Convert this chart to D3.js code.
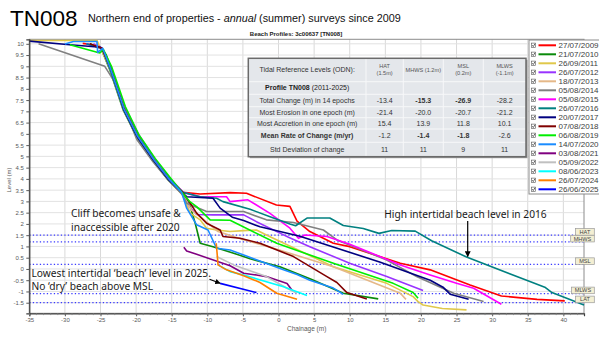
<!DOCTYPE html>
<html><head><meta charset="utf-8">
<script src="https://cdn.jsdelivr.net/npm/d3@7"></script>
<style>
body{margin:0;background:#fff;}
svg{display:block;font-family:"Liberation Sans",Arial,sans-serif;}
</style>
</head><body>
<svg id="c" width="599" height="337"></svg>
<script>
// ---------- DATA ----------
const dates = ["27/07/2009","21/07/2010","26/09/2011","26/07/2012","18/07/2013","05/08/2014","05/08/2015","26/07/2016","20/07/2017","07/08/2018","06/08/2019","14/07/2020","03/08/2021","05/09/2022","08/06/2023","26/07/2024","26/06/2025"];
const colors = ["#ff0000","#0a8a0a","#e0c84a","#9933ff","#e5b888","#808080","#ff00ff","#008080","#000080","#800000","#00ee00","#1a8cff","#800080","#c0c0c0","#00ffff","#ff8000","#0000ff"];

// [chainage (m), level (m)]
const p2009 = [[-27.5,10.02],[-26.2,9.96],[-24.8,9.8],[-23.5,8.95],[-21.6,7.15],[-19.7,5.95],[-17.5,4.9],[-15.4,4.05],[-13.4,3.4],[-11,3.33],[-6.8,3.39],[-4.5,3.36],[-0.3,2.84],[1.6,2.78],[2.6,2.12],[4.4,1.66],[7.7,1.14],[10,0.99],[17.1,0.25],[21.3,-0.04],[26.9,-0.71],[31.3,-1.2],[36.3,-1.35],[40.2,-1.42]];
const p2010 = [[-26.5,10.0],[-24.9,9.78],[-23.7,8.85],[-21.8,7.05],[-19.9,5.85],[-17.6,4.8],[-15.5,3.95],[-13.6,3.35],[-13.1,3.2],[-12.4,2.77],[-11.7,2.03],[-11.0,1.14],[-9.2,0.99],[-6.3,0.7],[-4,0.45],[0.2,0.1],[4.5,-0.45],[9.1,-1.08],[14.0,-1.33]];
const p2011 = [[-35,10.15],[-25.5,10.15],[-25.1,9.85],[-23.6,8.9],[-21.7,7.1],[-19.8,5.9],[-17.5,4.8],[-15.4,3.95],[-13.5,3.3],[-12.4,2.48],[-11,2.18],[-10.1,1.81],[-8.7,1.73],[-6.8,1.66],[-4.9,1.7],[-3.1,1.73],[-1.7,1.51],[7.7,0.1],[15.2,-0.64],[18.9,-1.23],[19.6,-1.45],[20.3,-1.6],[23,-1.76],[26.4,-1.82]];
const p2012 = [[-26,10.0],[-24.8,9.82],[-23.6,8.95],[-21.6,7.2],[-19.6,5.95],[-17.4,4.9],[-15.3,4.05],[-13.4,3.4],[-12.5,2.75],[-11.5,2.42],[-9.2,2.4],[-4.9,2.4],[-3.1,2.1],[0.2,1.59],[1.4,1.41],[4.4,0.99],[10,0.25],[15.2,-0.34],[20.3,-0.96]];
const p2013 = [[-26,9.95],[-24.8,9.78],[-23.7,8.88],[-21.8,7.08],[-19.9,5.88],[-17.6,4.83],[-15.5,3.98],[-13.5,3.35],[-12.2,2.6],[-11,2.32],[-8.5,1.66],[-4.9,1.3],[0,0.85],[7.7,0.1],[17.1,-1.08],[17.9,-1.35]];
const p2014 = [[-33.7,10.0],[-24.4,9.0],[-23.2,8.4],[-21.5,7.0],[-19.9,5.75],[-17.6,4.75],[-15.5,3.95],[-13.5,3.3],[-12.9,2.92],[-10.1,2.55],[-4.9,2.55],[-1.7,2.18],[2.1,2.06],[6.3,1.73],[8.2,1.29],[15.2,0.4],[19.4,-0.34],[24.6,-1.08],[28.8,-1.45]];
const p2015 = [[-27,10.0],[-24.8,9.8],[-23.6,8.9],[-21.7,7.1],[-19.8,5.9],[-17.5,4.85],[-15.4,4.0],[-13.4,3.4],[-11,3.21],[-7.3,3.21],[-6.8,2.99],[-4.3,3.07],[-1.2,2.47],[1.6,1.81],[2.8,1.36],[3.7,1.51],[6.8,1.44],[10,1.1],[17.1,0.18],[21.3,-0.27],[25,-0.64],[27.4,-0.86],[31.3,-1.57]];
const p2016 = [[-27,10.0],[-24.8,9.8],[-23.7,8.9],[-21.8,7.1],[-19.9,5.9],[-17.6,4.85],[-15.5,4.0],[-13.4,3.4],[-11,3.21],[-8.7,3.14],[-7.8,2.99],[-4,2.65],[-1,2.3],[1.6,2.0],[2.4,1.92],[4.0,2.26],[7.2,2.26],[9.1,1.93],[11.9,1.8],[14.1,1.58],[15.9,1.71],[19.2,1.68],[21.5,1.25],[26.4,0.53],[35.3,-0.56],[37.4,-0.81],[38.4,-1.05],[42.9,-1.6]];
const p2017 = [[-35,10.12],[-29.3,9.96],[-25,9.85],[-24.2,9.5],[-23.5,8.85],[-21.7,7.05],[-19.8,5.85],[-17.5,4.8],[-15.4,3.95],[-13.4,3.35],[-12.9,3.21],[-9.2,3.14],[-8.2,2.7],[-6.5,2.3],[-4.9,2.15],[-2.6,1.87],[3,1.45],[14.3,0.3],[21.3,-0.5],[23.1,-0.81],[24.1,-1.12],[26.7,-1.35]];
const p2018 = [[-26.5,10.0],[-24.8,9.8],[-23.6,8.92],[-21.7,7.12],[-19.8,5.92],[-17.5,4.85],[-15.4,4.0],[-13.4,3.38],[-12.4,2.92],[-11.5,2.48],[-10.1,2.03],[-8.2,1.73],[-7.8,1.44],[-5.4,1.36],[-2.6,1.14],[2.1,0.55],[6.8,-0.34],[8.2,-0.6],[9.6,-1.05],[12.4,-1.33]];
const p2019 = [[-29.3,9.96],[-25.1,9.59],[-24.6,9.75],[-23.4,8.95],[-21.5,7.2],[-19.6,5.95],[-17.3,4.9],[-15.2,4.05],[-13.8,3.5],[-12.5,3.0],[-11.5,2.77],[-9.6,2.18],[-6.8,2.16],[-0.25,1.14],[7.7,0.25],[16.1,-0.64],[18.9,-1.05],[19.6,-1.3]];
const p2020 = [[-30,9.99],[-28.8,10.1],[-25.5,10.1],[-25.4,9.62],[-24.7,9.8],[-23.6,8.9],[-21.7,7.1],[-19.8,5.9],[-17.5,4.85],[-15.4,4.0],[-13.6,3.4],[-12.9,2.7],[-11.5,1.96],[-9.9,1.73],[-8.7,0.92],[-6.8,0.84],[-4.7,0.6],[0.7,-0.04],[2.6,-0.25],[4.4,-0.5],[7.7,-0.85],[9.1,-1.13]];
const p2021 = [[-13.3,0.96],[-12.9,0.8],[-11.5,0.65],[-6.8,0.14],[-4.9,-0.19],[-3.1,-0.27],[-1.7,-0.34],[-0.25,-0.49],[1.2,-0.65],[1.9,-0.95]];
const p2022 = [[-8.7,0.55],[-6.3,0.18],[-1.7,-0.34],[1.2,-0.86],[2.6,-1.08]];
const p2023 = [[-8.5,0.18],[-6.8,-0.12],[-4.9,-0.27],[0.7,-0.79],[4.0,-1.18]];
const p2024 = [[-8.75,1.14],[-8.6,0.6],[-8.5,0.18],[-7.3,-0.04],[-4.9,-0.3],[-2.6,-0.6],[-0.25,-1.08],[2.6,-1.35]];
const p2025 = [[-8.2,-0.64],[-3.1,-1.05]];
const profiles = [p2009,p2010,p2011,p2012,p2013,p2014,p2015,p2016,p2017,p2018,p2019,p2020,p2021,p2022,p2023,p2024,p2025];

const xTickLabels = [-35,-30,-25,-20,-15,-10,-5,0,5,10,15,20,25,30,35,40];
const yTickLabels = [-1.5,-1,-0.5,0,0.5,1,1.5,2,2.5,3,3.5,4,4.5,5,5.5,6,6.5,7,7.5,8,8.5,9,9.5,10];

const tidalNames = ["HAT","MHWS","MSL","MLWS","LAT"];
const tidalLevels = [1.5,1.2,0.2,-1.1,-1.5];

const tableHeaders = [["HAT","(1.5m)"],["MHWS (1.2m)"],["MSL","(0.2m)"],["MLWS","(-1.1m)"]];
const rowLabels = ["Total Change (m) in 14 epochs","Most Erosion in one epoch (m)","Most Accretion in one epoch (m)","Mean Rate of Change (m/yr)","Std Deviation of change"];
const rowValues = [["-13.4","-15.3","-26.9","-28.2"],["-21.4","-20.0","-20.7","-21.2"],["15.4","13.9","11.8","10.1"],["-1.2","-1.4","-1.8","-2.6"],["11","11","9","11"]];
const boldCells = [[0,1],[0,2],[3,1],[3,2]];

// ---------- LAYOUT ----------
const svg = d3.select("#c");
const L = 29.3, R = 584, T = 39.3, B = 313.3;
const x = d3.scaleLinear().domain([-35, 42.9]).range([L, R]);
const y = d3.scaleLinear().domain([-1.97, 10.2]).range([B, T]);

// titles
svg.append("text").attr("x", 10).attr("y", 26).attr("font-size", 22.5).attr("fill", "#000").text("TN008");
svg.append("text").attr("x", 88).attr("y", 22).attr("font-size", 10.8).attr("fill", "#111")
  .call(t => {
    t.append("tspan").text("Northern end of properties - ");
    t.append("tspan").attr("font-style", "italic").text("annual");
    t.append("tspan").text(" (summer) surveys since 2009");
  });
svg.append("text").attr("x", 296).attr("y", 35.5).attr("text-anchor", "middle").attr("font-size", 6)
  .attr("font-weight", "bold").attr("fill", "#222").text("Beach Profiles: 3c00637 [TN008]");

// gridlines
const g = svg.append("g");
g.selectAll("line.vx").data(xTickLabels).enter().append("line")
  .attr("x1", d => x(d)).attr("x2", d => x(d)).attr("y1", T).attr("y2", B)
  .attr("stroke", "#d9d9d9").attr("stroke-width", 1);
g.selectAll("line.hy").data(yTickLabels).enter().append("line")
  .attr("x1", L).attr("x2", R).attr("y1", d => y(d)).attr("y2", d => y(d))
  .attr("stroke", "#e2e2e2").attr("stroke-width", 1);

// plot border
svg.append("rect").attr("x", L).attr("y", T).attr("width", R - L).attr("height", B - T)
  .attr("fill", "none").attr("stroke", "#8c8c8c").attr("stroke-width", 1);

// tidal dotted lines
svg.selectAll("line.tide").data(tidalLevels).enter().append("line")
  .attr("x1", L).attr("x2", R).attr("y1", d => y(d)).attr("y2", d => y(d))
  .attr("stroke", "#3b3bff").attr("stroke-width", 1.3).attr("stroke-dasharray", "1.3,2.2");

// profiles
const line = d3.line().x(d => x(d[0])).y(d => y(d[1]));
svg.append("g").selectAll("path").data(profiles).enter().append("path")
  .attr("d", line).attr("fill", "none")
  .attr("stroke", (d, i) => colors[i]).attr("stroke-width", 1.6).attr("stroke-linejoin", "round");

// axes
const xAxis = d3.axisBottom(x).tickValues(xTickLabels).tickSize(3).tickPadding(1.5).tickFormat(d => String(d));
const gx = svg.append("g").attr("transform", `translate(0,${B})`).call(xAxis);
const yAxis = d3.axisLeft(y).tickValues(yTickLabels).tickSize(3).tickFormat(d => String(d));
const gy = svg.append("g").attr("transform", `translate(${L},0)`).call(yAxis);
[gx, gy].forEach(a => {
  a.select(".domain").attr("stroke", "#404040").attr("stroke-width", 1.2);
  a.selectAll(".tick line").attr("stroke", "#595959");
  a.selectAll(".tick text").attr("font-size", 6).attr("fill", "#595959").attr("font-family", "Liberation Sans, Arial, sans-serif");
});
gy.selectAll(".tick text").attr("dx", "0.1em");
// minor x ticks
svg.append("g").selectAll("line").data(d3.range(-35, 43, 1)).enter().append("line")
  .attr("x1", d => x(d)).attr("x2", d => x(d)).attr("y1", B).attr("y2", B + 1.8)
  .attr("stroke", "#808080").attr("stroke-width", 0.8);

svg.append("text").attr("x", (L + R) / 2).attr("y", 331).attr("text-anchor", "middle")
  .attr("font-size", 6.5).attr("fill", "#595959").text("Chainage (m)");
svg.append("text").attr("transform", `translate(11,180) rotate(-90)`).attr("text-anchor", "middle")
  .attr("font-size", 6).attr("fill", "#595959").text("Level (m)");

// annotations
const ann = svg.append("g").attr("font-family", "'Noto Sans', 'Open Sans', sans-serif").attr("font-size", 10.2).attr("fill", "#1a1a1a");
ann.append("text").attr("x", 71).attr("y", 217).text("Cliff becomes unsafe &");
ann.append("text").attr("x", 71).attr("y", 230.5).text("inaccessible after 2020");
ann.append("text").attr("x", 31.5).attr("y", 276.5).text("Lowest intertidal \u2018beach\u2019 level in 2025.");
ann.append("text").attr("x", 31.5).attr("y", 290).text("No \u2018dry\u2019 beach above MSL");
ann.append("text").attr("x", 384.3).attr("y", 218).text("High intertidal beach level in 2016");

const defs = svg.append("defs");
defs.append("marker").attr("id", "ah").attr("viewBox", "0 0 10 10").attr("refX", 9).attr("refY", 5)
  .attr("markerWidth", 5).attr("markerHeight", 5).attr("orient", "auto")
  .append("path").attr("d", "M0,0 L10,5 L0,10 z").attr("fill", "#000");
svg.append("line").attr("x1", 467.7).attr("y1", 221).attr("x2", 467.7).attr("y2", y(0.55))
  .attr("stroke", "#000").attr("stroke-width", 1.2).attr("marker-end", "url(#ah)");
svg.append("line").attr("x1", 209.5).attr("y1", 279.3).attr("x2", x(-8.2)).attr("y2", y(-0.64))
  .attr("stroke", "#000").attr("stroke-width", 1.1).attr("marker-end", "url(#ah)");

// table
const colX = [248.3, 366, 403.3, 443.3, 483.3, 526];
const rowY = [58.3, 81.7, 94.3, 106.7, 117.7, 129, 142.3, 156.7];
const tbl = svg.append("g");
tbl.append("rect").attr("x", colX[0] + 1.5).attr("y", rowY[0] + 1.5).attr("width", colX[5] - colX[0]).attr("height", rowY[7] - rowY[0]).attr("fill", "#9a9a9a");
tbl.append("rect").attr("x", colX[0]).attr("y", rowY[0]).attr("width", colX[5] - colX[0]).attr("height", rowY[7] - rowY[0]).attr("fill", "#e4e7eb");
[1, 2, 3, 4].forEach(i => tbl.append("line").attr("x1", colX[i]).attr("x2", colX[i]).attr("y1", rowY[0]).attr("y2", rowY[7]).attr("stroke", "#f7f8f9").attr("stroke-width", 1));
[1, 2, 3, 4, 5, 6].forEach(i => tbl.append("line").attr("x1", colX[0]).attr("x2", colX[5]).attr("y1", rowY[i]).attr("y2", rowY[i]).attr("stroke", "#f7f8f9").attr("stroke-width", 1));
tbl.append("rect").attr("x", colX[0]).attr("y", rowY[0]).attr("width", colX[5] - colX[0]).attr("height", rowY[7] - rowY[0])
  .attr("fill", "none").attr("stroke", "#6b6b6b").attr("stroke-width", 1.5);
const lblC = (colX[0] + colX[1]) / 2;
tbl.append("text").attr("x", lblC).attr("y", (rowY[0] + rowY[1]) / 2 + 2.4).attr("text-anchor", "middle").attr("font-size", 7).attr("fill", "#333").text("Tidal Reference Levels (ODN):");
tableHeaders.forEach((h, i) => {
  const cx = (colX[i + 1] + colX[i + 2]) / 2;
  const my = (rowY[0] + rowY[1]) / 2;
  h.forEach((s, j) => {
    const yy = h.length === 1 ? my + 2 : my - 2.5 + j * 7.2;
    tbl.append("text").attr("x", cx).attr("y", yy).attr("text-anchor", "middle").attr("font-size", 5.6).attr("fill", "#555").text(s);
  });
});
tbl.append("text").attr("x", lblC).attr("y", (rowY[1] + rowY[2]) / 2 + 2.4).attr("text-anchor", "middle").attr("font-size", 7).attr("fill", "#222")
  .call(t => { t.append("tspan").attr("font-weight", "bold").text("Profile TN008"); t.append("tspan").text(" (2011-2025)"); });
rowLabels.forEach((s, r) => {
  const cy = (rowY[r + 2] + rowY[r + 3]) / 2 + 2.4;
  tbl.append("text").attr("x", lblC).attr("y", cy).attr("text-anchor", "middle").attr("font-size", 7)
    .attr("font-weight", r === 3 ? "bold" : "normal").attr("fill", "#333").text(s);
  rowValues[r].forEach((v, c) => {
    const bold = boldCells.some(b => b[0] === r && b[1] === c);
    tbl.append("text").attr("x", (colX[c + 1] + colX[c + 2]) / 2).attr("y", cy).attr("text-anchor", "middle")
      .attr("font-size", 7).attr("font-weight", bold ? "bold" : "normal").attr("fill", "#333").text(v);
  });
});

// tidal labels
const tlw = {HAT: 18.7, MHWS: 23.6, MSL: 18.7, MLWS: 22.7, LAT: 18.7};
tidalNames.forEach((n, i) => {
  const w = tlw[n], yb = y(tidalLevels[i]);
  svg.append("rect").attr("x", 594.3 - w).attr("y", yb - 6.6).attr("width", w).attr("height", 6.6)
    .attr("fill", "#f3efd3").attr("stroke", "#9a9a9a").attr("stroke-width", 0.7);
  svg.append("text").attr("x", 594.3 - w / 2).attr("y", yb - 1.3).attr("text-anchor", "middle")
    .attr("font-size", 5.6).attr("fill", "#444").text(n);
});

// legend
const lg = svg.append("g");
lg.append("rect").attr("x", 529).attr("y", 40).attr("width", 72).attr("height", 154)
  .attr("fill", "#fff").attr("stroke", "#8c8c8c").attr("stroke-width", 1);
dates.forEach((dt, i) => {
  const cy = 45.3 + i * 9;
  lg.append("rect").attr("x", 531.3).attr("y", cy - 2.2).attr("width", 4.3).attr("height", 4.3)
    .attr("fill", "#fff").attr("stroke", "#555").attr("stroke-width", 0.6);
  lg.append("path").attr("d", `M${532.2},${cy - 0.1} L${533.3},${cy + 1.2} L${535},${cy - 1.6}`)
    .attr("fill", "none").attr("stroke", "#222").attr("stroke-width", 0.7);
  lg.append("line").attr("x1", 538.5).attr("x2", 556).attr("y1", cy).attr("y2", cy)
    .attr("stroke", colors[i]).attr("stroke-width", 2);
  lg.append("text").attr("x", 558.5).attr("y", cy + 2.8).attr("font-size", 8).attr("fill", "#404040").text(dt);
});
</script>
</body></html>
